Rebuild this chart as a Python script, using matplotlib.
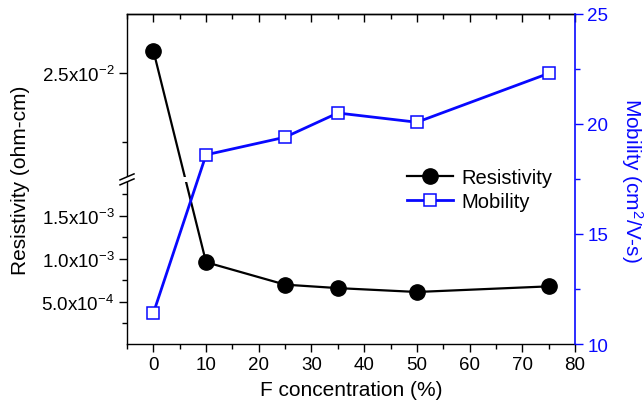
import numpy as np
import matplotlib
matplotlib.use('Agg')
import matplotlib.pyplot as plt
from matplotlib.ticker import MultipleLocator, FixedLocator
from matplotlib.patches import Rectangle

plt.rcParams['font.family'] = ['Liberation Sans', 'DejaVu Sans']
plt.rcParams['mathtext.fontset'] = 'custom'
plt.rcParams['mathtext.rm'] = 'Liberation Sans'
plt.rcParams['mathtext.it'] = 'Liberation Sans:italic'

# data
conc = [0, 10, 25, 35, 50, 75]
resistivity = [2.664e-2, 9.6e-4, 7.0e-4, 6.6e-4, 6.15e-4, 6.8e-4]
mobility = [11.4, 18.6, 19.4, 20.5, 20.08, 22.3]

res_ticks = [5e-4, 1e-3, 1.5e-3, 2.5e-2]
res_tick_labels = [r'$\mathregular{5.0x10^{-4}}$', r'$\mathregular{1.0x10^{-3}}$',
                   r'$\mathregular{1.5x10^{-3}}$', r'$\mathregular{2.5x10^{-2}}$']
res_minor = [2.5e-4, 7.5e-4, 1.25e-3, 1.75e-3, 2.0e-2]
mob_ticks = [10, 15, 20, 25]

# broken left axis: two linear pieces glued at the break
B1, B2 = 1.92e-3, 1.727e-2
K1, K2 = 86600.0, 13800.0
U1 = B1 * K1
U2 = U1 + 0.01


def fwd(v):
    v = np.asarray(v, float)
    gap = U1 + (v - B1) * (U2 - U1) / (B2 - B1)
    return np.where(v <= B1, v * K1, np.where(v >= B2, U2 + (v - B2) * K2, gap))


def inv(u):
    u = np.asarray(u, float)
    gap = B1 + (u - U1) * (B2 - B1) / (U2 - U1)
    return np.where(u <= U1, u / K1, np.where(u >= U2, B2 + (u - U2) / K2, gap))


blue = '#0808ff'
fig = plt.figure(figsize=(6.44, 4.14), dpi=100)
ax = fig.add_axes([127 / 644, 1 - 345 / 414, 448 / 644, 330 / 414])
ax.set_yscale('function', functions=(fwd, inv))
ylo, yhi = 1.2e-5, 2.93e-2
ax.set_ylim(ylo, yhi)
ax.set_xlim(-5, 80)

l1, = ax.plot(conc, resistivity, '-o', color='black', lw=1.6, ms=11,
              label='Resistivity', zorder=2)

ax.yaxis.set_major_locator(FixedLocator(res_ticks))
ax.set_yticklabels(res_tick_labels)
ax.yaxis.set_minor_locator(FixedLocator(res_minor))
ax.xaxis.set_major_locator(MultipleLocator(10))
ax.xaxis.set_minor_locator(MultipleLocator(5))
ax.tick_params(which='both', direction='out', width=1, labelsize=13.5, pad=3)
ax.tick_params(which='major', length=6)
ax.tick_params(which='minor', length=3.5)
ax.spines['right'].set_visible(False)
for s in ['left', 'bottom', 'top']:
    ax.spines[s].set_linewidth(1)
ax.set_xlabel('F concentration (%)', fontsize=15, labelpad=5)
ax.set_ylabel('Resistivity (ohm-cm)', fontsize=15, labelpad=8)

top = ax.secondary_xaxis('top')
top.xaxis.set_major_locator(MultipleLocator(10))
top.xaxis.set_minor_locator(MultipleLocator(5))
top.tick_params(which='both', direction='in', labeltop=False, width=1)
top.tick_params(which='major', length=6)
top.tick_params(which='minor', length=3.5)
top.spines['top'].set_linewidth(1)

# break on the left spine and gap in the black line
frac = float((fwd(B1) - fwd(ylo)) / (fwd(yhi) - fwd(ylo)))
dy = 1 / 330
dx = 1 / 448
ax.add_patch(Rectangle((-0.03, frac - 2.5 * dy), 1.03, 5 * dy, transform=ax.transAxes,
                       facecolor='white', edgecolor='none', zorder=3, clip_on=False))
for off in (-2.5, 2.5):
    ax.plot([-7 * dx, 7 * dx], [frac + (off - 3) * dy, frac + (off + 3) * dy],
            color='black', lw=1.1, transform=ax.transAxes, clip_on=False, zorder=4)

ax2 = ax.twinx()
l2, = ax2.plot(conc, mobility, '-s', color=blue, lw=2, ms=8.5, mfc='white',
               mec=blue, mew=1.1, label='Mobility')
ax2.set_ylim(10, 25)
ax2.yaxis.set_major_locator(FixedLocator(mob_ticks))
ax2.yaxis.set_minor_locator(MultipleLocator(2.5))
ax2.tick_params(which='both', direction='out', colors=blue, width=1, labelsize=13.5, pad=3)
ax2.tick_params(which='major', length=6)
ax2.tick_params(which='minor', length=3.5)
for s in ['left', 'top', 'bottom']:
    ax2.spines[s].set_visible(False)
ax2.spines['right'].set_color(blue)
ax2.spines['right'].set_linewidth(1.2)
ax2.set_ylabel(r'Mobility (cm$^{\mathregular{2}}$/V-s)', color=blue, fontsize=15,
               rotation=270, labelpad=26)

ax2.legend(handles=[l1, l2], loc='center left', bbox_to_anchor=(0.625, 0.468),
           frameon=False, fontsize=14.5, borderpad=0, borderaxespad=0,
           handlelength=2.3, handletextpad=0.4, labelspacing=0.25)

fig.savefig('out.png', dpi=100)
